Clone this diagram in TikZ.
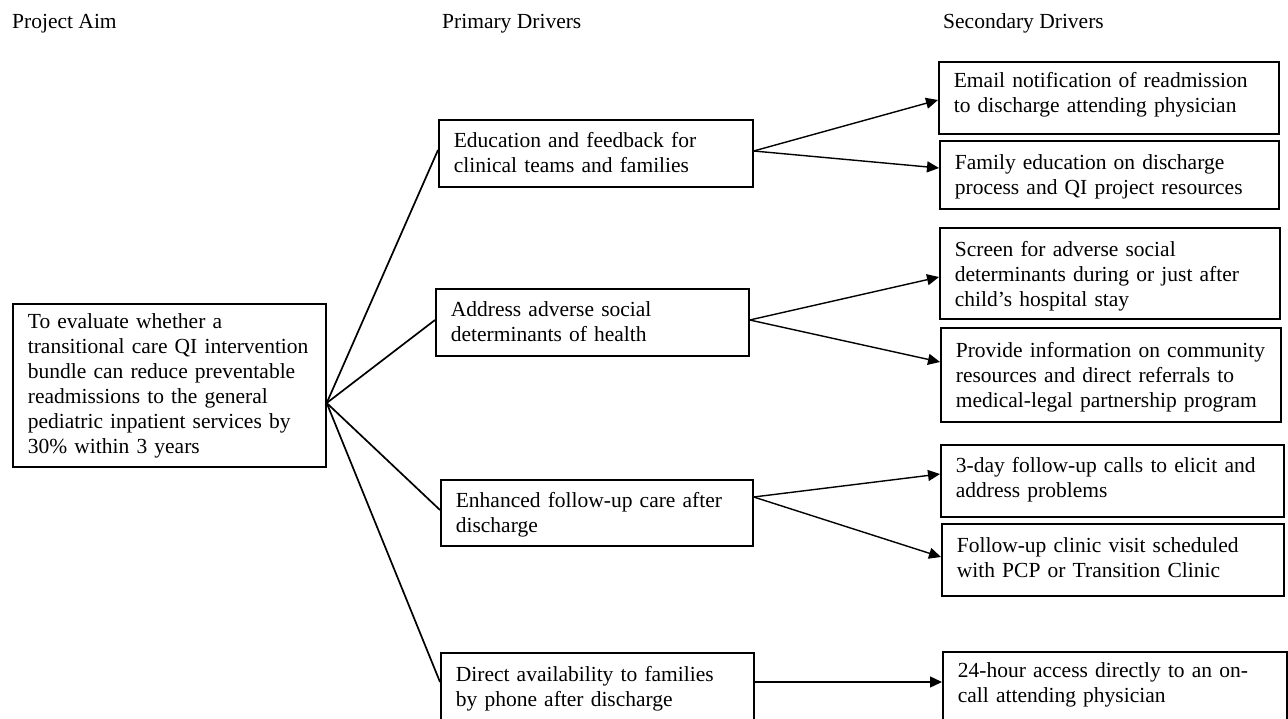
\documentclass[tikz,border=0pt]{standalone}
\usepackage{fontspec}
\setmainfont{Liberation Serif}
\usetikzlibrary{arrows.meta,calc}
\newcommand\drvbox[7]{% name, left, top, right, bottom, baseline offset, text
  \pgfmathsetmacro\bxw{#4-#2-30}%
  \pgfmathsetmacro\bxd{#5-#3-#6}%
  \node[drvbox, text width=\bxw pt, text height=#6pt, text depth=\bxd pt] (#1) at (#2,#3) {#7};%
}
\begin{document}
\begin{tikzpicture}[x=1pt,y=-1pt,
  txt/.style={font=\fontsize{21.5}{25}\selectfont},
  drvbox/.style={txt, draw, line width=1.7pt, anchor=north west, align=left, inner xsep=15pt, inner ysep=0pt},
  head/.style={txt, anchor=base west, inner sep=0pt},
  link/.style={line width=1.7pt},
  arr/.style={line width=1.4pt, -{Triangle[length=12pt,width=11pt]}}
]
\useasboundingbox[fill=white] (0,0) rectangle (1288,719);

\node[head] (h1) at (12,29) {Project Aim};
\node[head] (h2) at (442,29) {Primary Drivers};
\node[head] (h3) at (943,29) {Secondary Drivers};

\drvbox{aim}{12}{303}{325}{466}{25}{To evaluate whether a\\transitional care QI intervention\\bundle can reduce preventable\\readmissions to the general\\pediatric inpatient services by\\30\% within 3 years}

\drvbox{p1}{438}{119}{752}{186}{28}{Education and feedback for\\clinical teams and families}
\drvbox{p2}{435}{288}{748}{355}{28}{Address adverse social\\determinants of health}
\drvbox{p3}{440}{479}{752}{545}{28}{Enhanced follow-up care after\\discharge}
\drvbox{p4}{440}{652}{753}{745}{29}{Direct availability to families\\by phone after discharge}

\drvbox{s1}{938}{61}{1278}{133}{26}{Email notification of readmission\\to discharge attending physician}
\drvbox{s2}{939}{140}{1278}{208}{29}{Family education on discharge\\process and QI project resources}
\drvbox{s3}{939}{227}{1279}{318}{29}{Screen for adverse social\\determinants during or just after\\child’s hospital stay}
\drvbox{s4}{940}{327}{1280}{421}{30}{Provide information on community\\resources and direct referrals to\\medical-legal partnership program}
\drvbox{s5}{940}{444}{1283}{516}{28}{3-day follow-up calls to elicit and\\address problems}
\drvbox{s6}{941}{523}{1283}{595}{29}{Follow-up clinic visit scheduled\\with PCP or Transition Clinic}
\drvbox{s7}{942}{651}{1286}{745}{26}{24-hour access directly to an on-\\call attending physician}

\coordinate (ao) at ($(aim.north east)+(0,100)$);
\draw[link] (ao) -- ($(p1.north west)+(0,31)$);
\draw[link] (ao) -- ($(p2.north west)+(0,32)$);
\draw[link] (ao) -- ($(p3.north west)+(0,31)$);
\draw[link] (ao) -- ($(p4.north west)+(0,30)$);

\coordinate (o1) at ($(p1.north east)+(0,32)$);
\coordinate (o2) at ($(p2.north east)+(0,32)$);
\coordinate (o3) at ($(p3.north east)+(0,18)$);
\coordinate (o4) at ($(p4.north east)+(0,30)$);

\draw[arr] (o1) -- ($(s1.north west)+(0,39)$);
\draw[arr] (o1) -- ($(s2.north west)+(0,28)$);
\draw[arr] (o2) -- ($(s3.north west)+(0,50)$);
\draw[arr] (o2) -- ($(s4.north west)+(0,35)$);
\draw[arr] (o3) -- ($(s5.north west)+(0,30)$);
\draw[arr] (o3) -- ($(s6.north west)+(0,34)$);
\draw[arr] (o4) -- ($(s7.north west)+(0,31)$);
\end{tikzpicture}
\end{document}
